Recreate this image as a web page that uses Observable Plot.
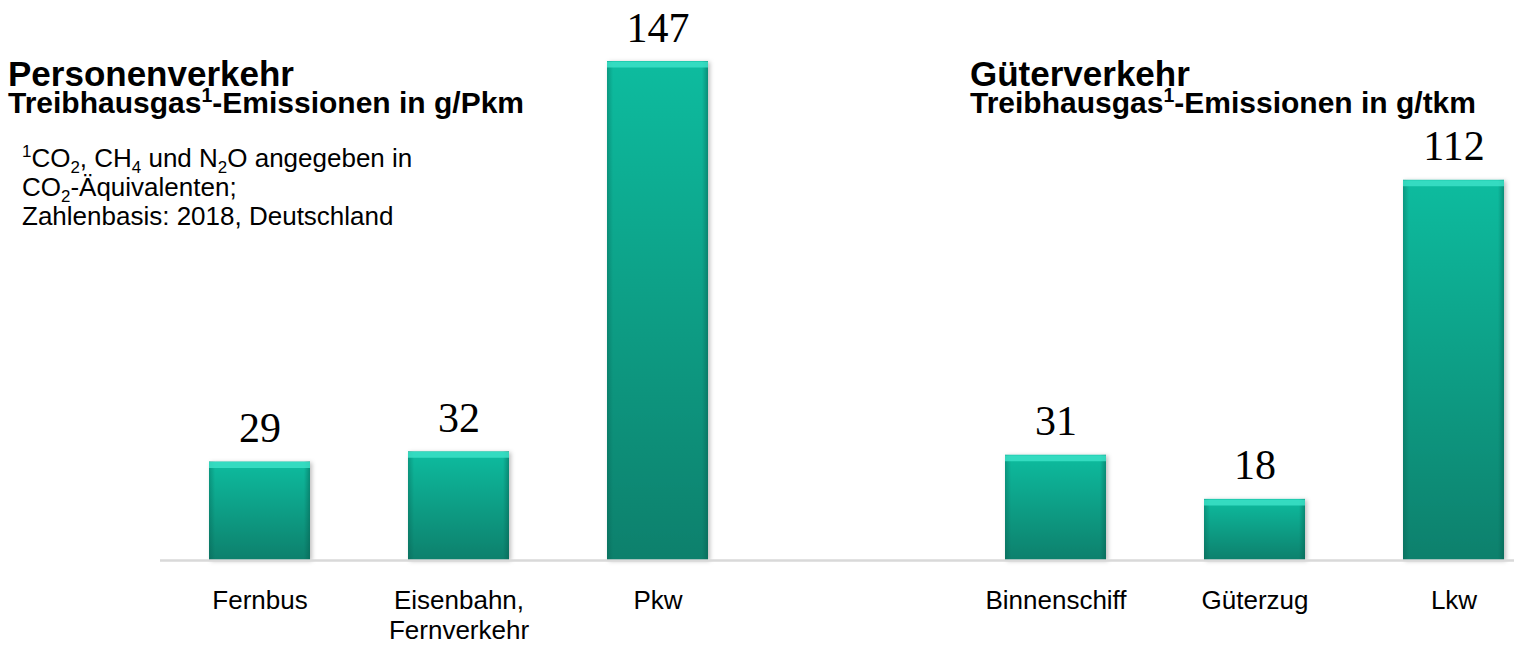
<!DOCTYPE html>
<html>
<head>
<meta charset="utf-8">
<script src="https://cdn.jsdelivr.net/npm/d3@7"></script>
<script src="https://cdn.jsdelivr.net/npm/@observablehq/plot@0.6"></script>
<style>
  html, body { margin: 0; padding: 0; background: #fff; }
  #wrap { position: relative; width: 1514px; height: 646px; overflow: hidden; font-family: "Liberation Sans", Arial, sans-serif; color: #000; }
  #chart { position: absolute; left: 0; top: 0; }
  .title { position: absolute; font-weight: bold; font-size: 35px; line-height: 1; white-space: nowrap; }
  .sub { position: absolute; font-weight: bold; font-size: 30px; line-height: 1; white-space: nowrap; }
  .note { position: absolute; font-size: 26px; line-height: 29px; white-space: nowrap; }
  sup, sub { font-size: 65%; line-height: 0; }
</style>
</head>
<body>
<div id="wrap">
  <div id="chart"></div>
  <div class="title" style="left:8px; top:56px;">Personenverkehr</div>
  <div class="sub" style="left:8px; top:88px;">Treibhausgas<sup>1</sup>-Emissionen in g/Pkm</div>
  <div class="note" style="left:22px; top:144px;"><sup>1</sup>CO<sub>2</sub>, CH<sub>4</sub> und N<sub>2</sub>O angegeben in<br>CO<sub>2</sub>-Äquivalenten;<br>Zahlenbasis: 2018, Deutschland</div>
  <div class="title" style="left:970px; top:56px;">Güterverkehr</div>
  <div class="sub" style="left:970px; top:88px;">Treibhausgas<sup>1</sup>-Emissionen in g/tkm</div>
</div>
<script>
// Data
const categories = ["Fernbus", "Eisenbahn", "Pkw", "", "Binnenschiff", "Güterzug", "Lkw"];
const tickLabels = ["Fernbus", "Eisenbahn,\nFernverkehr", "Pkw", "", "Binnenschiff", "Güterzug", "Lkw"];
const barCategories = ["Fernbus", "Eisenbahn", "Pkw", "Binnenschiff", "Güterzug", "Lkw"];
const barValues = [29, 32, 147, 31, 18, 112];

const data = barCategories.map((c, i) => ({ cat: c, value: barValues[i] }));
const labelOf = new Map(categories.map((c, i) => [c, tickLabels[i]]));

const chart = Plot.plot({
  width: 1514,
  height: 646,
  marginLeft: 160,
  marginRight: 0,
  marginTop: 61,
  marginBottom: 86,
  style: { fontFamily: "'Liberation Sans', Arial, sans-serif", color: "#000", background: "transparent" },
  x: {
    type: "band",
    domain: categories,
    paddingInner: 0.493,
    paddingOuter: 0.146,
    align: 0.83,
    axis: null
  },
  y: { domain: [0, 147], axis: null },
  marks: [
    Plot.barY(data, { x: "cat", y: "value", fill: "url(#barGrad)" }),
    Plot.barY(data, { x: "cat", y: "value", fill: "url(#sideGrad)" }),
    Plot.tickY(data, { x: "cat", y: "value", stroke: "#3ee3c9", strokeWidth: 6, dy: 3, strokeOpacity: 0.8 }),
    Plot.ruleY([0], { stroke: "#d9d9d9", strokeWidth: 2.5 }),
    Plot.text(data, {
      x: "cat", y: "value", text: d => String(d.value),
      dy: -20, lineAnchor: "bottom", fontSize: 42,
      fontFamily: "'Liberation Serif', 'Times New Roman', serif", fill: "#000"
    }),
    Plot.axisX({
      tickSize: 0, tickPadding: 27, fontSize: 26, label: null,
      tickFormat: d => labelOf.get(d), lineHeight: 1.15
    })
  ]
});

// gradient definitions for bars
const ns = "http://www.w3.org/2000/svg";
const defs = document.createElementNS(ns, "defs");
defs.innerHTML = `
  <linearGradient id="barGrad" x1="0" y1="0" x2="0" y2="1">
    <stop offset="0" stop-color="#0bbc9f"/>
    <stop offset="1" stop-color="#07806c"/>
  </linearGradient>
  <linearGradient id="sideGrad" x1="0" y1="0" x2="1" y2="0">
    <stop offset="0" stop-color="#05584a" stop-opacity="0.35"/>
    <stop offset="0.06" stop-color="#05584a" stop-opacity="0"/>
    <stop offset="0.94" stop-color="#05584a" stop-opacity="0"/>
    <stop offset="1" stop-color="#05584a" stop-opacity="0.45"/>
  </linearGradient>
  <filter id="shadow" x="-10%" y="-10%" width="130%" height="120%">
    <feDropShadow dx="2" dy="1" stdDeviation="2" flood-color="#000" flood-opacity="0.25"/>
  </filter>`;
chart.insertBefore(defs, chart.firstChild);
const firstBar = chart.querySelector("g[aria-label='bar']");
if (firstBar) firstBar.setAttribute("filter", "url(#shadow)");

document.getElementById("chart").appendChild(chart);
</script>
</body>
</html>
